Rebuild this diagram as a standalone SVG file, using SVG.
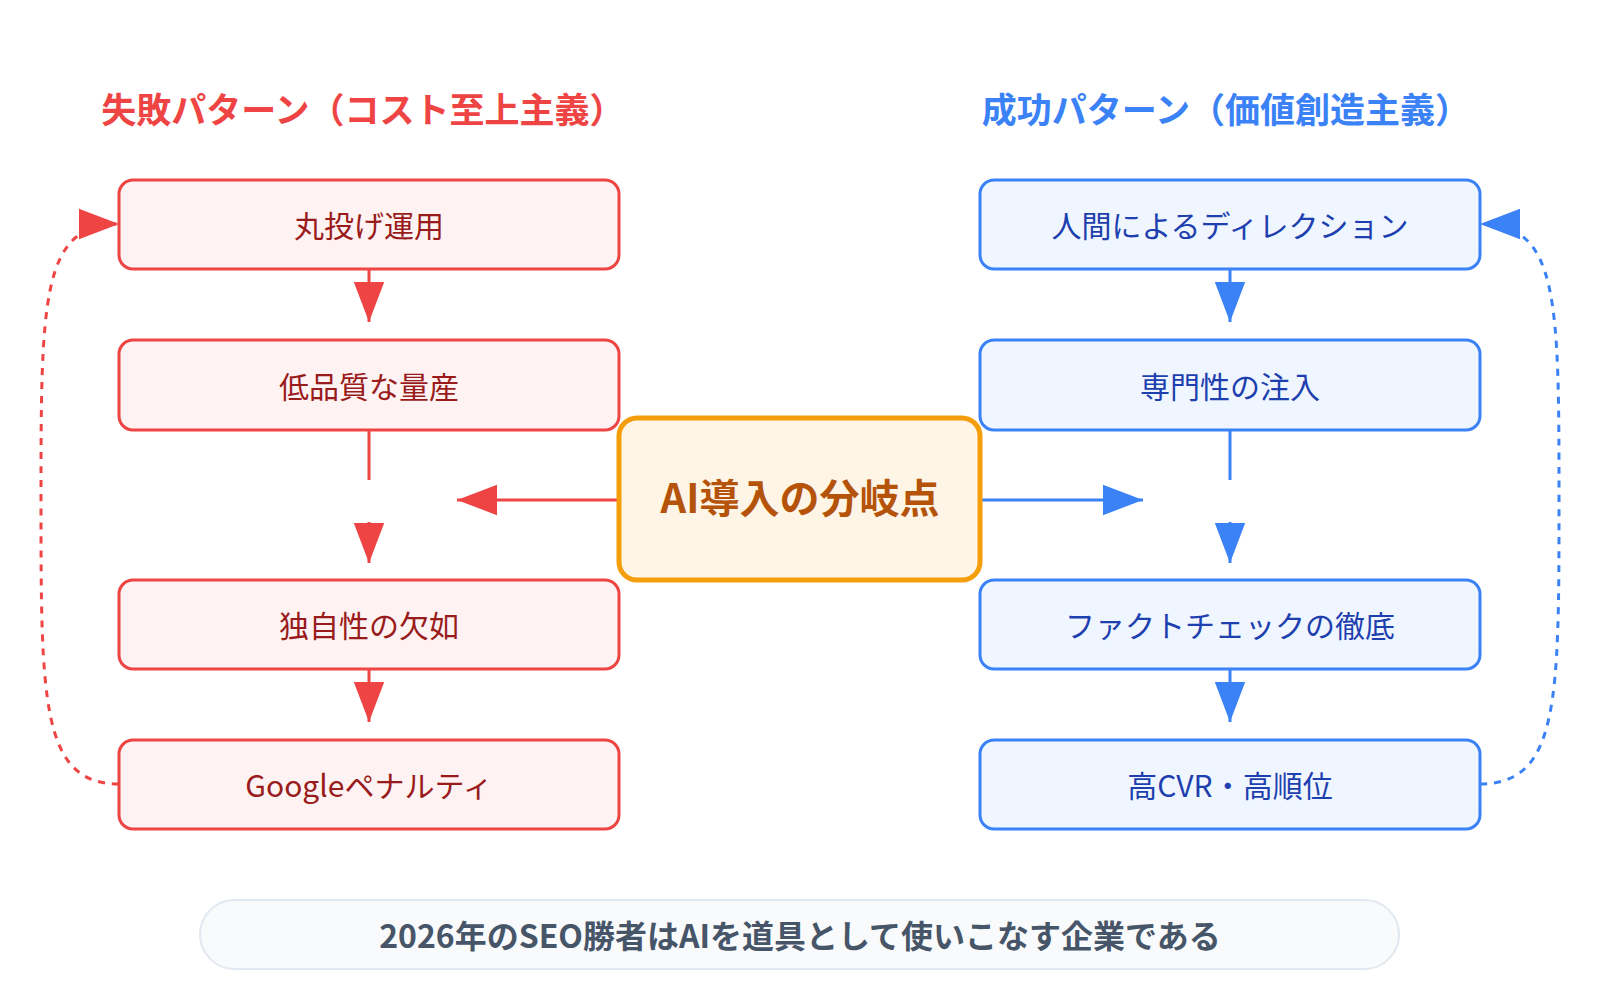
<svg xmlns="http://www.w3.org/2000/svg" width="1600" height="1000" viewBox="0 0 1600 1000">
<style>
text{font-family:"Noto Sans CJK JP","Noto Sans",sans-serif;text-anchor:middle;dominant-baseline:central}
.r rect{fill:#fef2f2;stroke:#ef4444;stroke-width:3}
.r text{fill:#991b1b;font-size:30px}
.b rect{fill:#eff6ff;stroke:#3b82f6;stroke-width:3}
.b text{fill:#1e40af;font-size:30px}
.rl{stroke:#ef4444;stroke-width:3;fill:none}
.bl{stroke:#3b82f6;stroke-width:3;fill:none}
</style>
<defs>
<marker id="ar2" viewBox="0 0 10 10" refX="10" refY="5" markerWidth="40" markerHeight="40" markerUnits="userSpaceOnUse" orient="auto"><path d="M0,1.2L10,5L0,8.8z" fill="#ef4444"/></marker>
<marker id="ab2" viewBox="0 0 10 10" refX="10" refY="5" markerWidth="40" markerHeight="40" markerUnits="userSpaceOnUse" orient="auto"><path d="M0,1.2L10,5L0,8.8z" fill="#3b82f6"/></marker>
</defs>
<text x="363" y="107" font-size="35" font-weight="bold" fill="#ef4444">失敗パターン（コスト至上主義）</text>
<text x="1226" y="107" font-size="35" font-weight="bold" fill="#3b82f6">成功パターン（価値創造主義）</text>
<g id="connectors">
<path class="rl" d="M369,269V322" marker-end="url(#ar2)"/>
<path class="rl" d="M369,430V480"/>
<path class="rl" d="M369,522V563" marker-end="url(#ar2)"/>
<path class="rl" d="M369,669V722" marker-end="url(#ar2)"/>
<path class="rl" d="M619,500H457" marker-end="url(#ar2)"/>
<path class="rl" stroke-width="3.5" stroke-dasharray="7,7" d="M119,784C41,784 41,700 41,502C41,300 41,224 119,224" marker-end="url(#ar2)"/>
<path class="bl" d="M1230,269V322" marker-end="url(#ab2)"/>
<path class="bl" d="M1230,430V480"/>
<path class="bl" d="M1230,522V563" marker-end="url(#ab2)"/>
<path class="bl" d="M1230,669V722" marker-end="url(#ab2)"/>
<path class="bl" d="M980,500H1143" marker-end="url(#ab2)"/>
<path class="bl" stroke-width="3.5" stroke-dasharray="7,7" d="M1480,784C1559,784 1559,700 1559,502C1559,300 1559,224 1480,224" marker-end="url(#ab2)"/>
</g>
<g id="f1" class="r"><rect x="119" y="180" width="500" height="89" rx="14"/><text x="369" y="224">丸投げ運用</text></g>
<g id="f2" class="r"><rect x="119" y="340" width="500" height="90" rx="14"/><text x="369" y="385">低品質な量産</text></g>
<g id="f3" class="r"><rect x="119" y="580" width="500" height="89" rx="14"/><text x="369" y="624">独自性の欠如</text></g>
<g id="f4" class="r"><rect x="119" y="740" width="500" height="89" rx="14"/><text x="369" y="784">Googleペナルティ</text></g>
<g id="s1" class="b"><rect x="980" y="180" width="500" height="89" rx="14"/><text x="1230" y="224">人間によるディレクション</text></g>
<g id="s2" class="b"><rect x="980" y="340" width="500" height="90" rx="14"/><text x="1230" y="385">専門性の注入</text></g>
<g id="s3" class="b"><rect x="980" y="580" width="500" height="89" rx="14"/><text x="1230" y="624">ファクトチェックの徹底</text></g>
<g id="s4" class="b"><rect x="980" y="740" width="500" height="89" rx="14"/><text x="1230" y="784">高CVR・高順位</text></g>
<g id="center"><rect x="619" y="418" width="361" height="162" rx="18" fill="#fef5e6" stroke="#f59e0b" stroke-width="5"/><text x="800" y="496" font-size="40" font-weight="bold" fill="#b45309">AI導入の分岐点</text></g>
<g id="summary"><rect x="200" y="900" width="1199" height="69" rx="34.5" fill="#f8fafc" stroke="#e2e8f0" stroke-width="2"/><text x="800" y="934" font-size="32" font-weight="bold" fill="#475569">2026年のSEO勝者はAIを道具として使いこなす企業である</text></g>
</svg>
